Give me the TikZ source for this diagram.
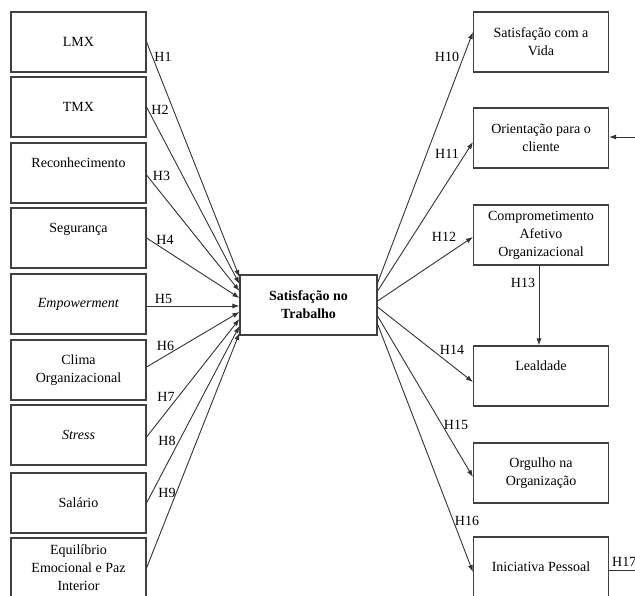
\documentclass[tikz,border=0pt]{standalone}
\usepackage{fontspec}
\setmainfont{Liberation Serif}
\usetikzlibrary{arrows.meta}

\tikzset{
  varbox/.style={draw=black!75, line width=1.1pt, minimum width=135pt, minimum height=60pt,
    align=center, inner sep=2pt, font=\fontsize{14}{18}\selectfont},
  raised/.style={text depth=20pt},
  hlab/.style={inner sep=0pt, font=\fontsize{14}{16}\selectfont},
  seta/.style={draw=black!80, line width=0.9pt, -{Latex[length=7pt,width=5pt]}},
  fio/.style={draw=black!80, line width=0.9pt}
}

\begin{document}
\begin{tikzpicture}[x=1pt,y=-1pt]
          \useasboundingbox (0,0) rectangle (635,595);
          \clip (0,0) rectangle (635,595);
          % Antecedentes
          \node[varbox] (lmx) at (78.5,42) {LMX};
          \node[varbox] (tmx) at (78.5,107) {TMX};
          \node[varbox, raised] (recon) at (78.5,173) {Reconhecimento};
          \node[varbox, raised] (segur) at (78.5,238) {Segurança};
          \node[varbox] (empow) at (78.5,304) {\textit{Empowerment}};
          \node[varbox] (clima) at (78.5,370) {Clima\\Organizacional};
          \node[varbox] (stress) at (78.5,435) {\textit{Stress}};
          \node[varbox] (salario) at (78.5,503) {Salário};
          \node[varbox] (equil) at (78.5,568) {Equilíbrio\\Emocional e Paz\\Interior};
          % Satisfacao no trabalho
          \node[varbox, minimum width=137pt, font=\bfseries\fontsize{14}{18}\selectfont] (sat) at (308.5,305) {Satisfação no\\Trabalho};
          % Consequentes
          \node[varbox] (vida) at (541,42) {Satisfação com a\\Vida};
          \node[varbox] (cliente) at (541,138) {Orientação para o\\cliente};
          \node[varbox] (afetivo) at (541,235) {Comprometimento\\Afetivo\\Organizacional};
          \node[varbox, raised] (lealdade) at (541,376) {Lealdade};
          \node[varbox] (orgulho) at (541,473) {Orgulho na\\Organização};
          \node[varbox] (inic) at (541,567) {Iniciativa Pessoal};
          % H1 a H9
          \draw[seta] (lmx.east) -- ([yshift=28pt]sat.west);
          \draw[seta] (tmx.east) -- ([yshift=21pt]sat.west);
          \draw[seta] ([yshift=-2pt]recon.east) -- ([yshift=14pt]sat.west);
          \draw[seta] (segur.east) -- ([yshift=7pt]sat.west);
          \draw[seta] ([yshift=-2pt]empow.east) -- ([yshift=-1pt]sat.west);
          \draw[seta] ([yshift=3pt]clima.east) -- ([yshift=-7pt]sat.west);
          \draw[seta] ([yshift=-2pt]stress.east) -- ([yshift=-14pt]sat.west);
          \draw[seta] (salario.east) -- ([yshift=-21pt]sat.west);
          \draw[seta] (equil.east) -- ([yshift=-28pt]sat.west);
          \node[hlab] (h1) at (163,57) {H1};
          \node[hlab] (h2) at (160,110) {H2};
          \node[hlab] (h3) at (161.5,176) {H3};
          \node[hlab] (h4) at (165,240) {H4};
          \node[hlab] (h5) at (163.5,299) {H5};
          \node[hlab] (h6) at (165.5,346) {H6};
          \node[hlab] (h7) at (166,397) {H7};
          \node[hlab] (h8) at (167,441) {H8};
          \node[hlab] (h9) at (167,493) {H9};
          % H10 a H16
          \draw[seta] ([yshift=22pt]sat.east) -- ([yshift=10pt]vida.west);
          \draw[seta] ([yshift=14pt]sat.east) -- ([yshift=-4pt]cliente.west);
          \draw[seta] ([yshift=4pt]sat.east) -- ([yshift=-2pt]afetivo.west);
          \draw[seta] ([xshift=-2pt]afetivo.south) -- ([xshift=-2pt]lealdade.north);
          \draw[seta] ([yshift=-2pt]sat.east) -- ([yshift=-6pt]lealdade.west);
          \draw[seta] ([yshift=-11pt]sat.east) -- ([yshift=-4pt]orgulho.west);
          \draw[seta] ([yshift=-19pt]sat.east) -- ([yshift=-5pt]inic.west);
          \node[hlab] (h10) at (447,57) {H10};
          \node[hlab] (h11) at (447,154) {H11};
          \node[hlab] (h12) at (444,237) {H12};
          \node[hlab] (h13) at (523,283) {H13};
          \node[hlab] (h14) at (452,350) {H14};
          \node[hlab] (h15) at (456,425) {H15};
          \node[hlab] (h16) at (467,521) {H16};
          % Ligacoes para fora
          \coordinate (extcli) at (640,137);
          \draw[seta] (extcli) -- ([yshift=1pt]cliente.east);
          \coordinate (ext17) at (640,570);
          \draw[fio] ([yshift=-3pt]inic.east) -- (ext17);
          \node[hlab, anchor=west] (h17) at (612,562) {H17};
\end{tikzpicture}
\end{document}
